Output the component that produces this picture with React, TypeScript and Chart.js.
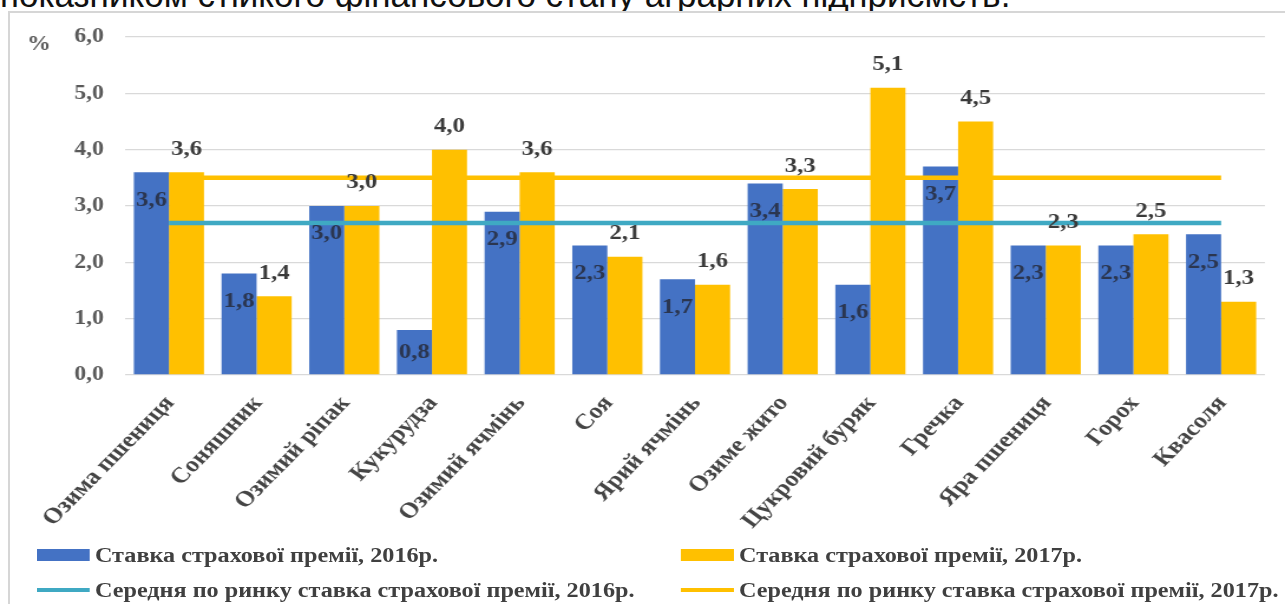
import React, { useEffect, useRef } from 'react';
import { Chart, registerables } from 'chart.js';

Chart.register(...registerables);

// ---- data ----
const categories = [
  'Озима пшениця',
  'Соняшник',
  'Озимий ріпак',
  'Кукурудза',
  'Озимий ячмінь',
  'Соя',
  'Ярий ячмінь',
  'Озиме жито',
  'Цукровий буряк',
  'Гречка',
  'Яра пшениця',
  'Горох',
  'Квасоля',
];
const rate2016 = [3.6, 1.8, 3.0, 0.8, 2.9, 2.3, 1.7, 3.4, 1.6, 3.7, 2.3, 2.3, 2.5];
const rate2017 = [3.6, 1.4, 3.0, 4.0, 3.6, 2.1, 1.6, 3.3, 5.1, 4.5, 2.3, 2.5, 1.3];
const avg2016 = [2.7, 2.7, 2.7, 2.7, 2.7, 2.7, 2.7, 2.7, 2.7, 2.7, 2.7, 2.7, 2.7];
const avg2017 = [3.5, 3.5, 3.5, 3.5, 3.5, 3.5, 3.5, 3.5, 3.5, 3.5, 3.5, 3.5, 3.5];
const seriesNames = [
  'Ставка страхової премії, 2016р.',
  'Ставка страхової премії, 2017р.',
  'Середня по ринку ставка страхової премії, 2016р.',
  'Середня по ринку ставка страхової премії, 2017р.',
];
const yMin = 0;
const yMax = 6;
const yStep = 1;
const yUnit = '%';
const headerText = 'показником стійкого фінансового стану аграрних підприємств.';

// ---- style ----
const BLUE = '#4472C4';
const YELLOW = '#FFC000';
const CYAN = '#3FA9C3';
const SERIF = '"Liberation Serif", "DejaVu Serif", serif';
const W = 1089; // canvas logical width, stretched horizontally to 1285
const H = 604;
const K = 1285 / W;

const fmt = (v: number) => v.toFixed(1).replace('.', ',');

const labelPlugin = {
  id: 'valueLabels',
  afterDatasetsDraw(chart: any) {
    const ctx = chart.ctx;
    ctx.save();
    ctx.font = `bold 21px ${SERIF}`;
    ctx.textAlign = 'center';
    ctx.textBaseline = 'middle';
    const m0 = chart.getDatasetMeta(0);
    m0.data.forEach((el: any, i: number) => {
      const h = el.base - el.y;
      ctx.fillStyle = '#2b3650';
      ctx.fillText(fmt(rate2016[i]), el.x, el.y + Math.min(28, h / 2));
    });
    const m1 = chart.getDatasetMeta(1);
    m1.data.forEach((el: any, i: number) => {
      ctx.fillStyle = '#3a3a3a';
      ctx.fillText(fmt(rate2017[i]), el.x, el.y - 23);
    });
    // unit label
    ctx.font = `bold 20px ${SERIF}`;
    ctx.fillStyle = '#595959';
    ctx.fillText(yUnit, 33, 45);
    ctx.restore();
  },
};

export default function App() {
  const ref = useRef<HTMLCanvasElement | null>(null);

  useEffect(() => {
    if (!ref.current) return;
    const chart = new Chart(ref.current, {
      type: 'bar',
      data: {
        labels: categories,
        datasets: [
          {
            type: 'bar',
            label: seriesNames[0],
            data: rate2016,
            backgroundColor: BLUE,
            order: 2,
            categoryPercentage: 0.8,
            barPercentage: 1.0,
          },
          {
            type: 'bar',
            label: seriesNames[1],
            data: rate2017,
            backgroundColor: YELLOW,
            order: 2,
            categoryPercentage: 0.8,
            barPercentage: 1.0,
          },
          {
            type: 'line',
            label: seriesNames[2],
            data: avg2016,
            borderColor: CYAN,
            borderWidth: 4.5,
            pointRadius: 0,
            order: 0,
          },
          {
            type: 'line',
            label: seriesNames[3],
            data: avg2017,
            borderColor: YELLOW,
            borderWidth: 4.5,
            pointRadius: 0,
            order: 1,
          },
        ] as any,
      },
      options: {
        animation: false,
        responsive: false,
        devicePixelRatio: 1,
        layout: { padding: { top: 37, right: W - Math.round(1265 / K), bottom: 0, left: 0 } },
        plugins: {
          legend: { display: false },
          tooltip: { enabled: false },
        },
        scales: {
          x: {
            grid: { display: false },
            border: { display: false },
            ticks: {
              autoSkip: false,
              minRotation: 50,
              maxRotation: 50,
              padding: 8,
              labelOffset: 1,
              color: '#454545',
              font: { family: SERIF, size: 22, weight: 'bold' },
            },
            afterFit: (s: any) => {
              s.height = H - 375;
            },
          },
          y: {
            min: yMin,
            max: yMax,
            grid: { color: '#D9D9D9', lineWidth: 1.3, drawTicks: false },
            border: { display: false },
            ticks: {
              stepSize: yStep,
              padding: 18,
              color: '#595959',
              font: { family: SERIF, size: 20, weight: 'bold' },
              callback: (v: any) => fmt(Number(v)),
            },
            afterFit: (s: any) => {
              s.width = Math.round(125 / K);
            },
          },
        },
      } as any,
      plugins: [labelPlugin],
    });
    return () => chart.destroy();
  }, []);

  const legendItems = [
    { x: 37, y: 555, kind: 'box', color: BLUE, text: seriesNames[0] },
    { x: 681, y: 555, kind: 'box', color: YELLOW, text: seriesNames[1] },
    { x: 37, y: 590, kind: 'line', color: CYAN, text: seriesNames[2] },
    { x: 681, y: 590, kind: 'line', color: YELLOW, text: seriesNames[3] },
  ];

  return (
    <div
      style={{
        position: 'fixed',
        left: 0,
        top: 0,
        width: 1285,
        height: H,
        background: '#fff',
        overflow: 'hidden',
      }}
    >
      <div
        style={{
          position: 'absolute',
          left: 0,
          top: -23,
          fontFamily: '"Liberation Sans", Arial, sans-serif',
          fontSize: 35,
          lineHeight: '35px',
          color: '#111',
          whiteSpace: 'nowrap',
        }}
      >
        {headerText}
      </div>
      <div
        style={{
          position: 'absolute',
          left: 8,
          top: 11,
          right: 0,
          bottom: 0,
          background: '#fff',
          borderTop: '2px solid #d6d6d6',
          borderLeft: '2px solid #d6d6d6',
        }}
      />
      <div
        style={{
          position: 'absolute',
          left: 0,
          top: 0,
          width: W,
          height: H,
          transform: `scaleX(${K})`,
          transformOrigin: '0 0',
        }}
      >
        <canvas ref={ref} width={W} height={H} style={{ display: 'block', width: W, height: H }} />
        {legendItems.map((it, i) => (
          <div
            key={i}
            style={{
              position: 'absolute',
              left: it.x / K,
              top: it.y - 14,
              height: 28,
              display: 'flex',
              alignItems: 'center',
              whiteSpace: 'nowrap',
            }}
          >
            <div
              style={{
                width: 53 / K,
                height: it.kind === 'box' ? 12 : 4,
                background: it.color,
                marginRight: 5 / K,
              }}
            />
            <span
              style={{
                fontFamily: SERIF,
                fontWeight: 'bold',
                fontSize: 20.5,
                color: '#404040',
              }}
            >
              {it.text}
            </span>
          </div>
        ))}
      </div>
    </div>
  );
}
